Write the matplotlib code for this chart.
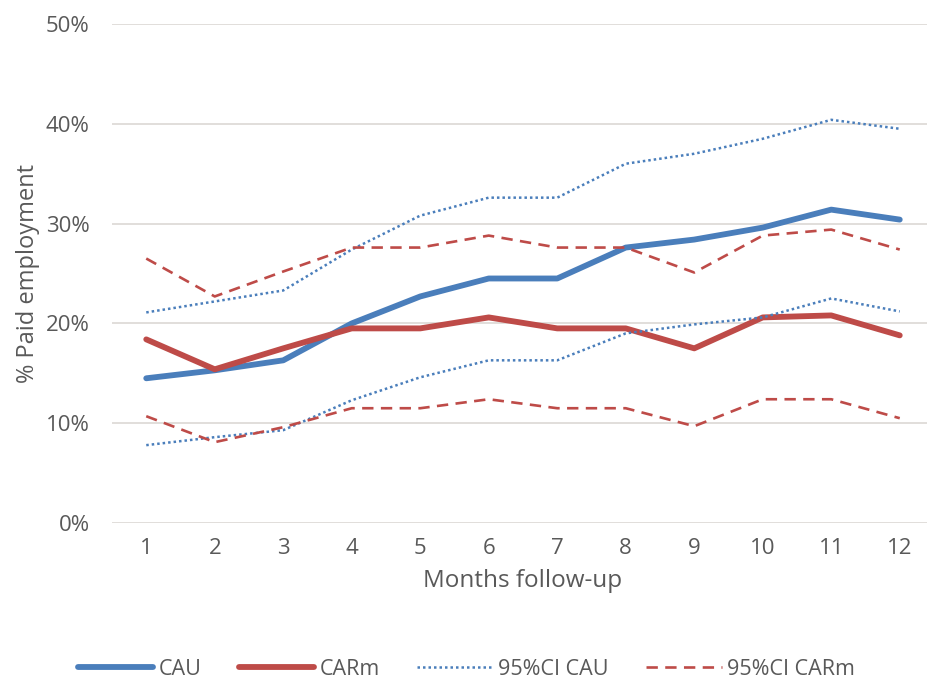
import numpy as np
import matplotlib.pyplot as plt
from matplotlib.ticker import PercentFormatter

plt.rcParams['font.family'] = ['Open Sans', 'DejaVu Sans']

months = list(range(1, 13))
cau = [14.5, 15.3, 16.3, 20.0, 22.7, 24.5, 24.5, 27.6, 28.4, 29.6, 31.4, 30.4]
carm = [18.4, 15.4, 17.5, 19.5, 19.5, 20.6, 19.5, 19.5, 17.5, 20.6, 20.8, 18.8]
ci_cau_hi = [21.1, 22.2, 23.3, 27.4, 30.8, 32.6, 32.6, 36.0, 37.0, 38.5, 40.4, 39.5]
ci_cau_lo = [7.8, 8.6, 9.3, 12.3, 14.6, 16.3, 16.3, 19.0, 19.9, 20.6, 22.5, 21.2]
ci_carm_hi = [26.5, 22.7, 25.2, 27.6, 27.6, 28.8, 27.6, 27.6, 25.1, 28.8, 29.4, 27.4]
ci_carm_lo = [10.7, 8.1, 9.6, 11.5, 11.5, 12.4, 11.5, 11.5, 9.7, 12.4, 12.4, 10.5]

blue = '#4a7ebb'
red = '#be4b48'
grey = '#595959'

fig = plt.figure(figsize=(9.27, 6.79), dpi=100)
ax = fig.add_axes([112 / 927, 156 / 679, 822 / 927, 499 / 679])

ax.plot(months, cau, color=blue, lw=4.2, label='CAU', solid_capstyle='round')
ax.plot(months, carm, color=red, lw=4.2, label='CARm', solid_capstyle='round')
ax.plot(months, ci_cau_hi, color=blue, lw=1.8, ls=(0, (1, 1.2)), label='95%CI CAU')
ax.plot(months, ci_cau_lo, color=blue, lw=1.8, ls=(0, (1, 1.2)))
ax.plot(months, ci_carm_hi, color=red, lw=1.9, ls=(0, (4.3, 2.8)), label='95%CI CARm')
ax.plot(months, ci_carm_lo, color=red, lw=1.9, ls=(0, (4.3, 2.8)))

ax.set_xlim(0.5, 12.5)
ax.set_ylim(0, 50)
ax.set_xticks(months)
ax.set_yticks(np.arange(0, 51, 10))
ax.yaxis.set_major_formatter(PercentFormatter(decimals=0))
ax.grid(axis='y', color='#dcd8d4', lw=1.2)
ax.set_axisbelow(True)
for s in ax.spines.values():
    s.set_visible(False)
ax.tick_params(length=0, labelsize=16, colors=grey, pad=16)
ax.tick_params(axis='x', pad=11)

ax.set_xlabel('Months follow-up', fontsize=17.5, color=grey, labelpad=7)
ax.set_ylabel('% Paid employment', fontsize=17, color=grey, labelpad=4)

fig.legend(loc='lower center', bbox_to_anchor=(0.503, -0.03), ncol=4, frameon=False,
           fontsize=15.5, labelcolor=grey, handlelength=3.5, columnspacing=1.75,
           handletextpad=0.25)

fig.savefig('out.png', dpi=100)
